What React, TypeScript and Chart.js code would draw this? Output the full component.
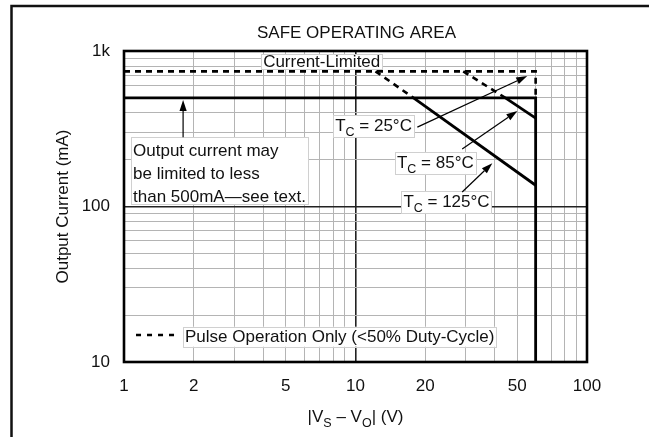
import React, { useEffect, useRef } from 'react';
import { Chart, registerables } from 'chart.js';

Chart.register(...registerables);

const FONT = '"Liberation Sans", Arial, Helvetica, sans-serif';

// ---- axes ----
const xGridValues = [1, 2, 3, 4, 5, 6, 7, 8, 9, 10, 20, 30, 40, 50, 60, 70, 80, 90, 100];
const yGridValues = [10, 20, 30, 40, 50, 60, 70, 80, 90, 100, 200, 300, 400, 500, 600, 700, 800, 900, 1000];
const xTickLabels = [1, 2, 5, 10, 20, 50, 100];
const yTickValues = [10, 100, 1000];
const yTickText = ['10', '100', '1k'];
const xMajor = [10];
const yMajor = [100];

// ---- series (V, mA) ----
const limitV = [1, 60, 60];
const limitI = [500, 500, 10];
const tc85V = [44.4, 60];
const tc85I = [500, 370];
const tc85PulseV = [29.2, 44.4];
const tc85PulseI = [740, 500];
const tc125V = [17.8, 60];
const tc125I = [500, 137];
const tc125PulseV = [12.2, 17.8];
const tc125PulseI = [740, 500];
const pulseV = [1, 60, 60];
const pulseI = [740, 740, 500];

// ---- annotation text ----
const titleText = 'SAFE OPERATING AREA';
const yTitleText = 'Output Current (mA)';
const xTitleParts: [string, boolean][] = [['|V', false], ['S', true], [' – V', false], ['O', true], ['| (V)', false]];
const currentLimitedText = 'Current-Limited';
const noteLines = ['Output current may', 'be limited to less', 'than 500mA—see text.'];
const legendText = 'Pulse Operation Only (<50% Duty-Cycle)';
const tc25Parts: [string, boolean][] = [['T', false], ['C', true], [' = 25°C', false]];
const tc85Parts: [string, boolean][] = [['T', false], ['C', true], [' = 85°C', false]];
const tc125Parts: [string, boolean][] = [['T', false], ['C', true], [' = 125°C', false]];

// anchors in data units (left edge, baseline)
const currentLimitedAt = [3.99, 789];
const tc25At = [8.17, 306];
const tc85At = [15.1, 177];
const tc125At = [16.1, 99.3];
const noteAt = [1.094, 211];
const legendTextAt = [1.835, 13.5];
const legendDashV = [1.127, 1.712];
const legendDashI = 14.9;

// arrows: [fromV, fromI, toV, toI]
const noteArrow = [1.8, 279, 1.8, 484];
const tc25Arrow = [18.5, 324, 55.2, 690];
const tc85Arrow = [28.9, 234, 50, 411];
const tc125Arrow = [28.9, 124, 39, 190];

const FS = 17;
const SUB = 12.5;

function toPts(xs: number[], ys: number[]) {
  return xs.map((v, i) => ({ x: v, y: ys[i] }));
}

function richWidth(ctx: CanvasRenderingContext2D, parts: [string, boolean][]) {
  let w = 0;
  for (const [t, sub] of parts) {
    ctx.font = `${sub ? SUB : FS}px ${FONT}`;
    w += ctx.measureText(t).width;
  }
  return w;
}

function drawRich(ctx: CanvasRenderingContext2D, parts: [string, boolean][], x: number, y: number) {
  let cx = x;
  ctx.textAlign = 'left';
  ctx.textBaseline = 'alphabetic';
  for (const [t, sub] of parts) {
    ctx.font = `${sub ? SUB : FS}px ${FONT}`;
    ctx.fillText(t, cx, sub ? y + 5 : y);
    cx += ctx.measureText(t).width;
  }
}

function box(ctx: CanvasRenderingContext2D, x: number, y: number, w: number, h: number) {
  ctx.save();
  ctx.fillStyle = '#fff';
  ctx.fillRect(x, y, w, h);
  ctx.strokeStyle = '#d0d0d0';
  ctx.lineWidth = 1;
  ctx.strokeRect(Math.round(x) + 0.5, Math.round(y) + 0.5, Math.round(w), Math.round(h));
  ctx.restore();
}

function arrow(ctx: CanvasRenderingContext2D, x1: number, y1: number, x2: number, y2: number) {
  const ang = Math.atan2(y2 - y1, x2 - x1);
  const L = 11, W = 3.6;
  const bx = x2 - L * Math.cos(ang), by = y2 - L * Math.sin(ang);
  ctx.save();
  ctx.strokeStyle = '#000';
  ctx.fillStyle = '#000';
  ctx.lineWidth = 1.2;
  ctx.beginPath();
  ctx.moveTo(x1, y1);
  ctx.lineTo(bx, by);
  ctx.stroke();
  ctx.beginPath();
  ctx.moveTo(x2, y2);
  ctx.lineTo(bx + W * Math.sin(ang), by - W * Math.cos(ang));
  ctx.lineTo(bx - W * Math.sin(ang), by + W * Math.cos(ang));
  ctx.closePath();
  ctx.fill();
  ctx.restore();
}

const overlay = {
  id: 'overlay',
  beforeDraw(chart: any) {
    const { ctx, width, height } = chart;
    ctx.save();
    ctx.fillStyle = '#fff';
    ctx.fillRect(0, 0, width, height);
    ctx.strokeStyle = '#111';
    ctx.lineWidth = 2.5;
    ctx.beginPath();
    ctx.moveTo(11.5, height);
    ctx.lineTo(11.5, 6);
    ctx.lineTo(width, 6);
    ctx.stroke();
    ctx.restore();
  },
  afterDatasetsDraw(chart: any) {
    const { ctx, chartArea: a } = chart;
    const xs = chart.scales.x, ys = chart.scales.y;
    const px = (v: number) => xs.getPixelForValue(v);
    const py = (v: number) => ys.getPixelForValue(v);
    ctx.save();

    // plot frame
    ctx.strokeStyle = '#000';
    ctx.lineWidth = 2.6;
    ctx.strokeRect(a.left, a.top, a.right - a.left, a.bottom - a.top);

    ctx.fillStyle = '#111';
    // title
    ctx.font = `${FS}px ${FONT}`;
    ctx.textAlign = 'center';
    ctx.textBaseline = 'alphabetic';
    ctx.fillText(titleText, (a.left + a.right) / 2 + 1, a.top - 13);

    // y title
    ctx.save();
    ctx.translate(a.left - 56, (a.top + a.bottom) / 2);
    ctx.rotate(-Math.PI / 2);
    ctx.textAlign = 'center';
    ctx.fillText(yTitleText, 0, 0);
    ctx.restore();

    // x title
    const xw = richWidth(ctx, xTitleParts);
    drawRich(ctx, xTitleParts, (a.left + a.right) / 2 - xw / 2, a.bottom + 60);

    // Current-Limited
    ctx.font = `${FS}px ${FONT}`;
    {
      const x = px(currentLimitedAt[0]), y = py(currentLimitedAt[1]);
      const w = ctx.measureText(currentLimitedText).width;
      box(ctx, x - 2, y - 13, w + 4, 15);
      ctx.fillStyle = '#111';
      ctx.textAlign = 'left';
      ctx.fillText(currentLimitedText, x, y);
    }

    // note box
    {
      const x = px(noteAt[0]), y = py(noteAt[1]);
      ctx.font = `${FS}px ${FONT}`;
      const w = Math.max(...noteLines.map((l) => ctx.measureText(l).width));
      box(ctx, x - 2, y - 19, w + 4, 19 + 46 + 2);
      ctx.fillStyle = '#111';
      ctx.textAlign = 'left';
      noteLines.forEach((l, i) => ctx.fillText(l, x, y + i * 23));
    }
    arrow(ctx, px(noteArrow[0]), py(noteArrow[1]), px(noteArrow[2]), py(noteArrow[3]));

    // Tc labels
    const tcs: [[string, boolean][], number[]][] = [[tc25Parts, tc25At], [tc85Parts, tc85At], [tc125Parts, tc125At]];
    for (const [parts, at] of tcs) {
      const x = px(at[0]), y = py(at[1]);
      const w = richWidth(ctx, parts);
      box(ctx, x - 2, y - 16, w + 4, 22);
      ctx.fillStyle = '#111';
      drawRich(ctx, parts, x, y);
    }
    arrow(ctx, px(tc25Arrow[0]), py(tc25Arrow[1]), px(tc25Arrow[2]), py(tc25Arrow[3]));
    arrow(ctx, px(tc85Arrow[0]), py(tc85Arrow[1]), px(tc85Arrow[2]), py(tc85Arrow[3]));
    arrow(ctx, px(tc125Arrow[0]), py(tc125Arrow[1]), px(tc125Arrow[2]), py(tc125Arrow[3]));

    // legend
    {
      const x = px(legendTextAt[0]), y = py(legendTextAt[1]);
      ctx.font = `${FS}px ${FONT}`;
      const w = ctx.measureText(legendText).width;
      box(ctx, x - 2, y - 15, w + 4, 20);
      ctx.fillStyle = '#111';
      ctx.textAlign = 'left';
      ctx.fillText(legendText, x, y);
      ctx.strokeStyle = '#000';
      ctx.lineWidth = 2.4;
      ctx.setLineDash([5, 6]);
      ctx.beginPath();
      ctx.moveTo(px(legendDashV[0]), py(legendDashI));
      ctx.lineTo(px(legendDashV[1]), py(legendDashI));
      ctx.stroke();
      ctx.setLineDash([]);
    }
    ctx.restore();
  },
};

const solid = { borderColor: '#000', borderWidth: 2.8, pointRadius: 0, showLine: true, fill: false, borderJoinStyle: 'miter' as const };
const dashed = { borderColor: '#000', borderWidth: 2.6, pointRadius: 0, showLine: true, fill: false, borderDash: [6, 5] };

export default function App() {
  const ref = useRef<HTMLCanvasElement>(null);
  useEffect(() => {
    const chart = new Chart(ref.current as HTMLCanvasElement, {
      type: 'scatter',
      data: {
        datasets: [
          { label: 'Limit', data: toPts(limitV, limitI), ...solid },
          { label: 'TC=85°C', data: toPts(tc85V, tc85I), ...solid },
          { label: 'TC=125°C', data: toPts(tc125V, tc125I), ...solid },
          { label: 'Pulse TC=25°C', data: toPts(pulseV, pulseI), ...dashed },
          { label: 'Pulse TC=85°C', data: toPts(tc85PulseV, tc85PulseI), ...dashed },
          { label: 'Pulse TC=125°C', data: toPts(tc125PulseV, tc125PulseI), ...dashed },
        ],
      },
      options: {
        responsive: false,
        animation: false,
        events: [],
        layout: { padding: { top: 51, right: 62, left: 0, bottom: 0 } },
        plugins: { legend: { display: false }, tooltip: { enabled: false }, title: { display: false } },
        scales: {
          x: {
            type: 'logarithmic',
            min: 1,
            max: 100,
            afterBuildTicks: (axis: any) => {
              axis.ticks = xGridValues.map((v) => ({ value: v }));
            },
            afterFit: (scale: any) => {
              scale.height = 75;
            },
            border: { display: false },
            grid: {
              drawTicks: false,
              color: (c: any) => (c.tick && xMajor.includes(c.tick.value) ? '#222' : '#b4b4b4'),
              lineWidth: (c: any) => (c.tick && xMajor.includes(c.tick.value) ? 1.6 : 1),
            },
            ticks: {
              autoSkip: false,
              maxRotation: 0,
              padding: 14,
              color: '#111',
              font: { family: FONT, size: FS },
              callback: (v: any) => (xTickLabels.includes(Number(v)) ? String(v) : ''),
            },
          },
          y: {
            type: 'logarithmic',
            min: 10,
            max: 1000,
            afterBuildTicks: (axis: any) => {
              axis.ticks = yGridValues.map((v) => ({ value: v }));
            },
            afterFit: (scale: any) => {
              scale.width = 124;
            },
            border: { display: false },
            grid: {
              drawTicks: false,
              color: (c: any) => (c.tick && yMajor.includes(c.tick.value) ? '#222' : '#b4b4b4'),
              lineWidth: (c: any) => (c.tick && yMajor.includes(c.tick.value) ? 1.6 : 1),
            },
            ticks: {
              autoSkip: false,
              padding: 14,
              color: '#111',
              font: { family: FONT, size: FS },
              callback: (v: any) => {
                const i = yTickValues.indexOf(Number(v));
                return i >= 0 ? yTickText[i] : '';
              },
            },
          },
        },
      },
      plugins: [overlay],
    } as any);
    return () => chart.destroy();
  }, []);
  return (
    <div style={{ position: 'absolute', left: 0, top: 0, width: 649, height: 437, background: '#fff' }}>
      <canvas ref={ref} width={649} height={437} style={{ display: 'block', width: 649, height: 437 }} />
    </div>
  );
}
